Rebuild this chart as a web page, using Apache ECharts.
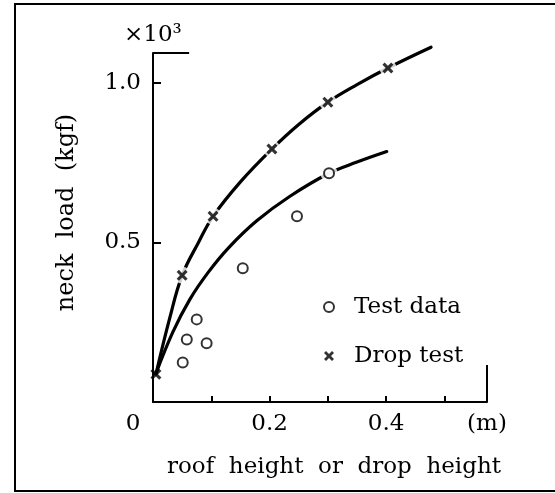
<!DOCTYPE html>
<html>
<head>
<meta charset="utf-8">
<script src="https://cdn.jsdelivr.net/npm/echarts@6/dist/echarts.min.js"></script>
<style>
html,body{margin:0;padding:0;background:#fff;}
#c{width:555px;height:493px;}
</style>
</head>
<body>
<div id="c"></div>
<script>
// Data (x in m, y in ×10³ kgf)
var testData = [[0.051,0.124],[0.058,0.196],[0.075,0.259],[0.092,0.184],[0.154,0.419],[0.247,0.582],[0.302,0.717]];
var dropTest = [[0.005,0.087],[0.050,0.397],[0.103,0.582],[0.204,0.793],[0.300,0.940],[0.403,1.047]];
// fitted curves
var upperCurve = [[0.005,0.087],[0.029,0.265],[0.050,0.397],[0.078,0.500],[0.103,0.582],[0.150,0.690],[0.204,0.793],[0.250,0.870],[0.300,0.940],[0.350,0.995],[0.403,1.047],[0.477,1.112]];
var lowerCurve = [[0.005,0.089],[0.034,0.219],[0.063,0.321],[0.095,0.407],[0.130,0.484],[0.178,0.568],[0.235,0.645],[0.302,0.717],[0.350,0.752],[0.401,0.785]];
var xTicks = [0.1,0.2,0.3,0.4,0.5];
var xLabels = [0,0.2,0.4,0.573];
var yTicks = [0.5,1.0];
var xMax = 0.573, yMax = 1.094;

var FONT = 'DejaVu Serif';
var FS = 23;
var chart = echarts.init(document.getElementById('c'), null, {renderer:'canvas'});
var crossPath = 'path://M2,0 L5,3 L8,0 L10,2 L7,5 L10,8 L8,10 L5,7 L2,10 L0,8 L3,5 L0,2 Z';

chart.setOption({
  animation:false,
  backgroundColor:'#fff',
  grid:{left:153,right:68,top:53,bottom:91,containLabel:false,outerBoundsMode:'none'},
  graphic:[
    {type:'rect',shape:{x:15,y:4,width:600,height:487},style:{fill:'none',stroke:'#000',lineWidth:2},z:0},
    {type:'text',left:124,top:24,style:{text:'×10³',font:'23px "DejaVu Serif"',fill:'#000'}}
  ],
  legend:{
    left:323, top:294, padding:0, orient:'vertical', itemWidth:10, itemHeight:10, itemGap:23,
    data:[{name:'Test data',icon:'emptyCircle'},{name:'Drop test',icon:crossPath}],
    textStyle:{fontFamily:FONT,fontSize:FS,color:'#000',lineHeight:26,padding:[0,0,0,15]}
  },
  xAxis:{
    type:'value',min:0,max:xMax,
    name:'roof  height  or  drop  height',nameLocation:'middle',nameGap:54,
    nameTextStyle:{fontFamily:FONT,fontSize:FS,color:'#000',padding:[0,0,0,28]},
    axisLine:{lineStyle:{color:'#000',width:2}},
    axisTick:{inside:true,length:6,lineStyle:{color:'#000',width:2},customValues:xTicks},
    axisLabel:{customValues:xLabels,margin:11,fontFamily:FONT,fontSize:FS,color:'#000',
      formatter:function(v){ if(v===0) return '{o|0}'; if(v>0.5) return '(m)'; return v.toFixed(1);},
      rich:{o:{fontFamily:FONT,fontSize:FS,color:'#000',padding:[0,40,0,0]}}},
    splitLine:{show:false}
  },
  yAxis:{
    type:'value',min:0,max:yMax,
    name:'neck  load  (kgf)',nameLocation:'middle',nameGap:74,
    nameTextStyle:{fontFamily:FONT,fontSize:24,color:'#000',padding:[0,0,0,30]},
    axisLine:{lineStyle:{color:'#000',width:2}},
    axisTick:{inside:true,length:8,lineStyle:{color:'#000',width:2},customValues:yTicks},
    axisLabel:{customValues:yTicks,margin:12,fontFamily:FONT,fontSize:FS,color:'#000',
      formatter:function(v){return v.toFixed(1);}},
    splitLine:{show:false}
  },
  series:[
    {name:'upper',type:'line',data:upperCurve,smooth:0.4,showSymbol:false,clip:false,silent:true,z:2,
      lineStyle:{color:'#000',width:3.2,cap:'round'},
      markLine:{silent:true,symbol:'none',label:{show:false},lineStyle:{color:'#000',width:2,type:'solid'},
        data:[[{coord:[0,yMax]},{coord:[0.062,yMax]}],[{coord:[xMax,0]},{coord:[xMax,0.116]}]]}},
    {name:'lower',type:'line',data:lowerCurve,smooth:0.4,showSymbol:false,clip:false,silent:true,z:2,
      lineStyle:{color:'#000',width:3.2,cap:'round'}},
    {name:'halo',type:'scatter',data:testData.concat(dropTest.slice(1)),symbol:'circle',symbolSize:17,silent:true,z:3,
      itemStyle:{color:'#fff'}},
    {name:'Test data',type:'scatter',data:testData,symbol:'emptyCircle',symbolSize:10,z:4,
      itemStyle:{color:'#000',borderColor:'#000',borderWidth:2}},
    {name:'Drop test',type:'scatter',data:dropTest,symbol:crossPath,symbolSize:11,z:4,
      itemStyle:{color:'#000'}}
  ]
});
</script>
</body>
</html>
